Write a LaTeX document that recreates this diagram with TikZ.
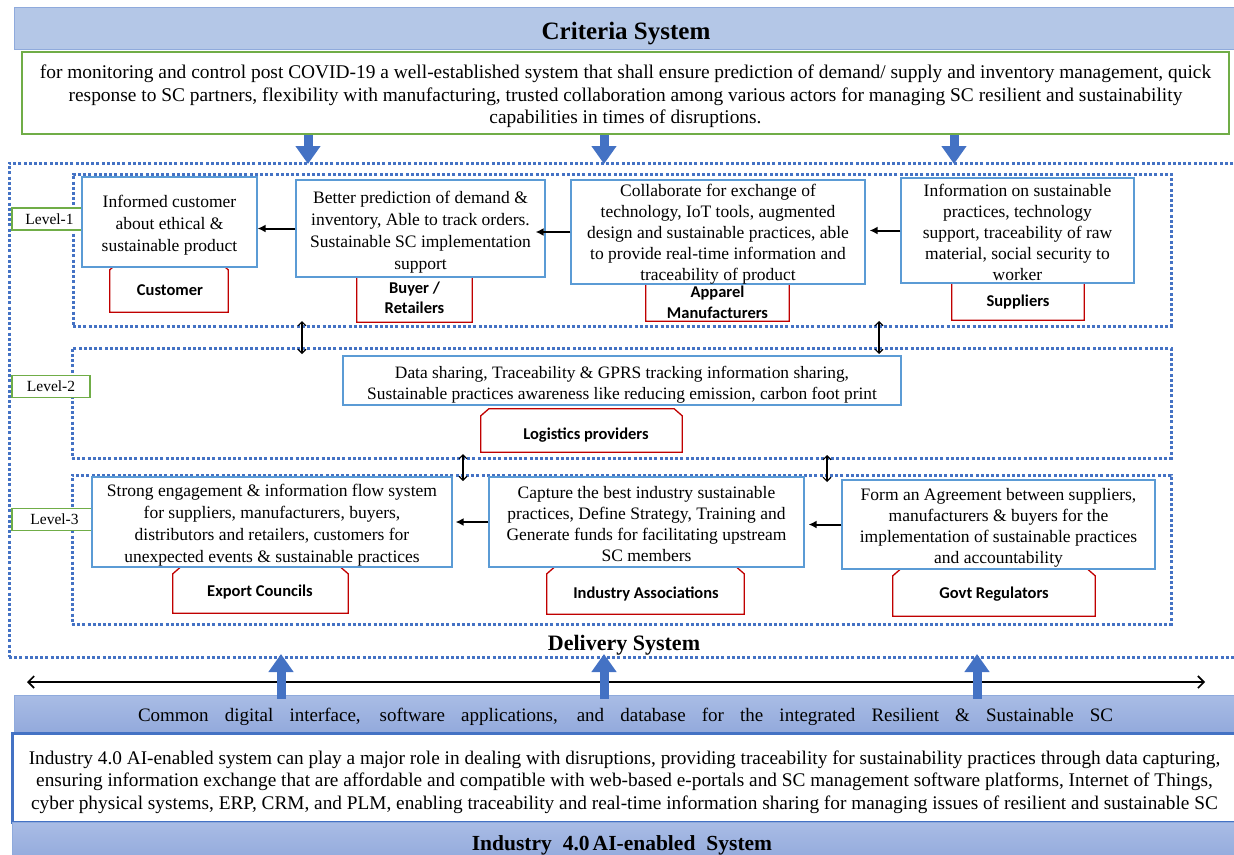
\documentclass[tikz,border=0pt]{standalone}
\usepackage{fontspec}
\setmainfont{Liberation Serif}
\newfontfamily\lblfont{Carlito}
\usetikzlibrary{arrows.meta}

\definecolor{dotblue}{HTML}{4472C4}
\definecolor{boxblue}{HTML}{5B9BD5}
\definecolor{hdrfill}{HTML}{B4C7E7}
\definecolor{hdrline}{HTML}{8FAADC}
\definecolor{bandtop}{HTML}{A9BCE5}
\definecolor{bandbot}{HTML}{93AADC}
\definecolor{grn}{HTML}{70AD47}
\definecolor{lblred}{HTML}{C00000}

\tikzset{
  frame/.style={draw=dotblue, line width=3pt, dash pattern=on 3pt off 2.2pt, inner sep=0pt},
  txtbox/.style={draw=boxblue, line width=1.2pt, fill=white, inner sep=0pt},
  boxtext/.style={align=center, inner sep=0pt, font=\fontsize{17.5}{22}\selectfont},
  lvl/.style={draw=grn, line width=1.2pt, fill=white, inner sep=0pt, minimum height=22pt,
    font=\fontsize{15.5}{18}\selectfont},
  actortext/.style={align=center, inner sep=0pt, font=\lblfont\bfseries\fontsize{16.5}{20.5}\selectfont},
  blk/.style={-{Latex[length=8pt,width=8pt]}, line width=2pt},
  dbl/.style={{Straight Barb[length=4pt,width=8pt]}-{Straight Barb[length=4pt,width=8pt]}, line width=1.1pt},
  longdbl/.style={{Straight Barb[length=6pt,width=12pt]}-{Straight Barb[length=6pt,width=12pt]}, line width=1.6pt},
  bigarrow/.style={-{Triangle[length=18pt,width=24pt]}, line width=9pt, draw=dotblue},
  band/.style={draw=hdrline, line width=1pt, top color=bandtop, bottom color=bandbot, inner sep=0pt},
}

% red actor tag: rectangle with both upper corners cut off
\newcommand\actorbox[5]{%
  \node[minimum width=#4, minimum height=#5, inner sep=0pt] (#1) at (#2,#3) {};
  \draw[draw=lblred, line width=1.3pt, fill=white]
    (#1.south west) -- ([yshift=-7pt]#1.north west) -- ([xshift=8pt]#1.north west)
    -- ([xshift=-8pt]#1.north east) -- ([yshift=-7pt]#1.north east) -- (#1.south east) -- cycle;
}

\begin{document}
\begin{tikzpicture}[x=1pt,y=-1pt]
\useasboundingbox (0,0) rectangle (1234,854);

% ---------- criteria system ----------
\node[draw=hdrline, fill=hdrfill, line width=1pt, minimum width=1226pt, minimum height=42pt, inner sep=0pt] (hdr) at (627,28) {};
\node[font=\bfseries\fontsize{25}{30}\selectfont, inner sep=0pt] (hdrtxt) at (626,34) {Criteria System};

\node[draw=grn, line width=1.5pt, fill=white, minimum width=1207pt, minimum height=82pt, inner sep=0pt] (crit) at (625.5,93) {};
\node[boxtext, font=\fontsize{19.4}{22.5}\selectfont] (critX) at ([yshift=-3.5pt]crit.center)
 {for monitoring and control post COVID-19 a well-established  system that shall ensure prediction of demand/ supply and inventory management, quick\\
  response to SC partners, flexibility  with manufacturing, trusted collaboration among various actors for managing SC resilient  and sustainability\\
  capabilities  in times of disruptions.};

% ---------- delivery system frames ----------
\node[frame, minimum width=1236pt, minimum height=494pt] (outer) at (627,410) {};
\node[frame, minimum width=1098pt, minimum height=152pt] (lv1) at (622,250) {};
\node[frame, minimum width=1099pt, minimum height=110pt] (lv2) at (621.5,403) {};
\node[frame, minimum width=1099pt, minimum height=149pt] (lv3) at (621.5,549.5) {};

\node[lvl, minimum width=75pt] (l1) at (49.5,219) {Level-1};
\node[lvl, minimum width=78pt] (l2) at (51,386.5) {Level-2};
\node[lvl, minimum width=85pt] (l3) at (54.5,519.5) {Level-3};

% actor tags
\actorbox{custL}{169}{287.5}{118pt}{49pt}
\actorbox{buyL}{414.5}{294}{115pt}{56pt}
\actorbox{appL}{717.5}{293.5}{143pt}{55pt}
\actorbox{supL}{1018}{293}{132pt}{54pt}
\actorbox{logL}{581.5}{430.5}{201pt}{43pt}
\actorbox{expL}{260.5}{590}{175pt}{46pt}
\actorbox{indL}{645.5}{590.5}{197pt}{47pt}
\actorbox{govL}{994}{592.5}{202pt}{47pt}

% level 1
\node[txtbox, minimum width=175pt, minimum height=90pt] (cust) at (169.5,222) {};
\node[boxtext] (custX) at ([yshift=-3.5pt]cust.center)
 {Informed customer\\about ethical \&\\sustainable product};
\node[txtbox, minimum width=249pt, minimum height=97pt] (buyer) at (420.5,228.5) {};
\node[boxtext] (buyerX) at ([yshift=-3.5pt]buyer.center)
 {Better prediction of demand \&\\inventory, Able to track orders.\\Sustainable SC implementation\\support};
\node[txtbox, minimum width=294pt, minimum height=104pt] (app) at (718,232) {};
\node[boxtext, font=\fontsize{17.5}{21}\selectfont] (appX) at ([yshift=-2pt]app.center)
 {Collaborate for exchange of\\technology, IoT tools, augmented\\design and sustainable practices, able\\to  provide real-time information and\\traceability of product};
\node[txtbox, minimum width=233pt, minimum height=105pt] (sup) at (1017.5,230.5) {};
\node[boxtext, font=\fontsize{17.5}{21}\selectfont] (supX) at ([yshift=-1.5pt]sup.center)
 {Information on sustainable\\practices, technology\\support, traceability of raw\\material, social security to\\worker};

% level 2
\node[txtbox, minimum width=558pt, minimum height=49pt] (log) at (622,380.5) {};
\node[boxtext, font=\fontsize{17.4}{21}\selectfont] (logX) at ([yshift=-4pt]log.center)
 {Data sharing, Traceability \& GPRS tracking information sharing,\\Sustainable practices awareness like reducing emission, carbon foot print};

% level 3
\node[txtbox, minimum width=360pt, minimum height=90pt] (exp) at (272,522) {};
\node[boxtext] (expX) at ([yshift=-3.5pt]exp.center)
 {Strong engagement \& information flow system\\for suppliers, manufacturers, buyers,\\distributors and retailers, customers for\\unexpected events \& sustainable practices};
\node[txtbox, minimum width=315pt, minimum height=90pt] (ind) at (646.5,522) {};
\node[boxtext, font=\fontsize{17.5}{21}\selectfont] (indX) at ([yshift=-2pt]ind.center)
 {Capture the best industry sustainable\\practices, Define Strategy, Training and\\Generate funds for facilitating upstream\\SC members};
\node[txtbox, minimum width=313pt, minimum height=89pt] (gov) at (998.5,524.5) {};
\node[boxtext, font=\fontsize{17.5}{21}\selectfont] (govX) at ([yshift=-3pt]gov.center)
 {Form an Agreement between suppliers,\\manufacturers \& buyers for the\\implementation of sustainable practices\\and accountability};

% actor names
\node[actortext] (custT) at (170,290) {Customer};
\node[actortext] (buyT) at (414.5,298) {Buyer /\\Retailers};
\node[actortext] (appT) at (717.5,302.5) {Apparel\\Manufacturers};
\node[actortext] (supT) at (1018,302) {Suppliers};
\node[actortext] (logT) at (586,435) {Logistics providers};
\node[actortext] (expT) at (260,592) {Export Councils};
\node[actortext] (indT) at (646,594) {Industry Associations};
\node[actortext] (govT) at (994,594) {Govt Regulators};

% information flow between actors
\draw[blk] (buyer.west) -- (buyer.west -| cust.east);
\draw[blk] (app.west) -- ([xshift=-10pt]app.west -| buyer.east);
\draw[blk] (sup.west) -- ([xshift=4pt]sup.west -| app.east);
\draw[blk] (ind.west) -- ([xshift=3pt]ind.west -| exp.east);
\draw[blk] (gov.west) -- ([xshift=4pt]gov.west -| ind.east);

% links between levels
\coordinate (v1a) at (302,321); \coordinate (v1b) at (302,354);
\coordinate (v2a) at (879,321); \coordinate (v2b) at (879,354);
\coordinate (v3a) at (463,454); \coordinate (v3b) at (463,481);
\coordinate (v4a) at (827,455); \coordinate (v4b) at (827,482);
\draw[dbl] (v1a) -- (v1b);
\draw[dbl] (v2a) -- (v2b);
\draw[dbl] (v3a) -- (v3b);
\draw[dbl] (v4a) -- (v4b);

\node[font=\bfseries\fontsize{22}{26}\selectfont, inner sep=0pt] (deliv) at (624,645) {Delivery System};

% criteria feed into delivery
\coordinate (d1) at (308,164);
\coordinate (d2) at (604,164);
\coordinate (d3) at (954,164);
\draw[bigarrow] (crit.south -| d1) -- (d1);
\draw[bigarrow] (crit.south -| d2) -- (d2);
\draw[bigarrow] (crit.south -| d3) -- (d3);

% ---------- Industry 4.0 layer ----------
\node[band, minimum width=1231pt, minimum height=37pt] (cband) at (629.5,713.5) {};
\node[inner sep=0pt, font=\fontsize{19}{22}\selectfont] (cbandT) at (625.5,717)
 {\makebox[975pt][s]{Common digital interface, software applications, and database for the integrated Resilient \& Sustainable SC}};

\node[draw=dotblue, line width=3pt, fill=white, minimum width=1233pt, minimum height=89pt, inner sep=0pt] (ibox) at (628.5,777.5) {};
\node[align=center, inner sep=0pt, font=\fontsize{19.3}{22.5}\selectfont] (iboxT) at (624.5,782)
 {Industry 4.0 AI-enabled system can play a major role in dealing with disruptions, providing traceability  for sustainability practices through data capturing,\\
  ensuring information exchange that are affordable and compatible with web-based e-portals and SC management software platforms, Internet of Things,\\
  cyber physical systems, ERP, CRM, and PLM, enabling traceability  and real-time information sharing for managing issues of resilient  and sustainable SC};

\node[band, minimum width=1233pt, minimum height=38pt] (iband) at (628.5,841) {};
\node[inner sep=0pt, font=\bfseries\fontsize{21.5}{24}\selectfont] (ibandT) at (622,845)
 {Industry\hspace{11pt}4.0\hspace{3pt}AI-enabled\hspace{11pt}System};

% horizontal integration arrow and upward support arrows
\coordinate (la) at (27,682);
\coordinate (lb) at (1205,682);
\draw[longdbl] (la) -- (lb);

\coordinate (u1) at (281,654);
\coordinate (u2) at (604,654);
\coordinate (u3) at (977,654);
\draw[bigarrow] ([yshift=-4pt]cband.north -| u1) -- (u1);
\draw[bigarrow] ([yshift=-4pt]cband.north -| u2) -- (u2);
\draw[bigarrow] ([yshift=-4pt]cband.north -| u3) -- (u3);
\end{tikzpicture}
\end{document}
